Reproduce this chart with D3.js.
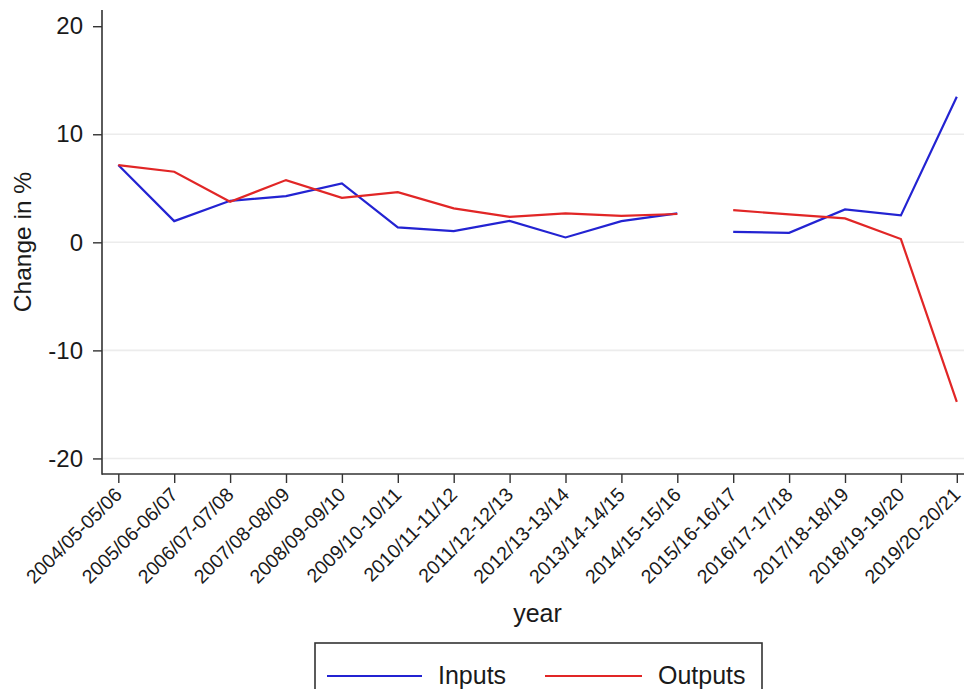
<!DOCTYPE html>
<html>
<head>
<meta charset="utf-8">
<script src="https://cdn.jsdelivr.net/npm/d3@7"></script>
<style>
  html, body { margin: 0; padding: 0; background: #fff; }
  svg { display: block; font-family: "Liberation Sans", Arial, sans-serif; }
</style>
</head>
<body>
<svg id="chart" width="964" height="689"></svg>
<script>
// Fiscal-year windows on the x axis
const categories = [
  "2004/05-05/06", "2005/06-06/07", "2006/07-07/08", "2007/08-08/09",
  "2008/09-09/10", "2009/10-10/11", "2010/11-11/12", "2011/12-12/13",
  "2012/13-13/14", "2013/14-14/15", "2014/15-15/16", "2015/16-16/17",
  "2016/17-17/18", "2017/18-18/19", "2018/19-19/20", "2019/20-20/21"
];

// Percentage change per window
const inputs = [7.15, 1.96, 3.84, 4.28, 5.45, 1.38, 1.04, 1.99, 0.45, 1.96, 2.68,
                0.97, 0.88, 3.05, 2.49, 13.47];
const outputs = [7.15, 6.53, 3.75, 5.76, 4.12, 4.65, 3.14, 2.36, 2.68, 2.45, 2.62,
                 2.98, 2.58, 2.21, 0.30, -14.77];

// The series is broken into two runs (no connection across the change of basis)
const runStarts = [0, 11];

const yTicks = [-20, -10, 0, 10, 20];
const gridTicks = [-20, -10, 0, 10];

const seriesNames = ["Inputs", "Outputs"];
const seriesColors = ["#2323d2", "#e12626"];

const svg = d3.select("#chart");
const W = 964, H = 689;

const plotLeft = 102, plotRight = 974, plotTop = 10, plotBottom = 474;

const x = d3.scalePoint().domain(categories).range([118.3, 956.8]);
const y = d3.scaleLinear().domain([-21.44, 21.5]).range([plotBottom, plotTop]);

// Gridlines
svg.append("g")
  .selectAll("line")
  .data(gridTicks)
  .join("line")
  .attr("x1", plotLeft + 1).attr("x2", plotRight)
  .attr("y1", d => y(d)).attr("y2", d => y(d))
  .attr("stroke", "#ececec").attr("stroke-width", 1.6);

// Y axis
const yAxis = svg.append("g")
  .attr("transform", `translate(${plotLeft},0)`)
  .call(d3.axisLeft(y).tickValues(yTicks).tickSize(9).tickPadding(10).tickFormat(d3.format("d")));
yAxis.select(".domain").remove();
yAxis.selectAll(".tick line").attr("stroke", "#333").attr("stroke-width", 1.4);
yAxis.selectAll(".tick text")
  .attr("font-size", 24).attr("fill", "#1a1a1a")
  .attr("font-family", "'Liberation Sans', Arial, sans-serif")
  .text(d => d < 0 ? "-" + Math.abs(d) : d);

// X axis
const xAxis = svg.append("g")
  .attr("transform", `translate(0,${plotBottom})`)
  .call(d3.axisBottom(x).tickSize(9).tickFormat(""));
xAxis.select(".domain").remove();
xAxis.selectAll(".tick line").attr("stroke", "#333").attr("stroke-width", 1.4);

svg.append("g")
  .selectAll("text")
  .data(categories)
  .join("text")
  .attr("transform", d => `translate(${x(d)},${plotBottom + 17})`+ " rotate(-45)")
  .attr("text-anchor", "end")
  .attr("dy", "0.35em")
  .attr("font-size", 19.5)
  .attr("fill", "#1a1a1a")
  .text(d => d);

// Axis lines
svg.append("line")
  .attr("x1", plotLeft).attr("x2", plotLeft)
  .attr("y1", plotTop).attr("y2", plotBottom + 0.7)
  .attr("stroke", "#333").attr("stroke-width", 1.6);
svg.append("line")
  .attr("x1", plotLeft).attr("x2", W)
  .attr("y1", plotBottom).attr("y2", plotBottom)
  .attr("stroke", "#333").attr("stroke-width", 1.6);

// Axis titles
svg.append("text")
  .attr("transform", `translate(31,${(plotTop + plotBottom) / 2}) rotate(-90)`)
  .attr("text-anchor", "middle")
  .attr("font-size", 24.5)
  .attr("fill", "#1a1a1a")
  .text("Change in %");

svg.append("text")
  .attr("x", 537.5).attr("y", 622)
  .attr("text-anchor", "middle")
  .attr("font-size", 25)
  .attr("fill", "#1a1a1a")
  .text("year");

// Series lines
const line = d3.line()
  .x(d => x(d.cat))
  .y(d => y(d.v));

[inputs, outputs].forEach((vals, s) => {
  const pts = vals.map((v, i) => ({ cat: categories[i], v }));
  runStarts.forEach((start, r) => {
    const end = r + 1 < runStarts.length ? runStarts[r + 1] : pts.length;
    svg.append("path")
      .datum(pts.slice(start, end))
      .attr("d", line)
      .attr("fill", "none")
      .attr("stroke", seriesColors[s])
      .attr("stroke-width", 2.2)
      .attr("stroke-linejoin", "miter");
  });
});

// Legend
const legend = svg.append("g");
legend.append("rect")
  .attr("x", 315).attr("y", 643)
  .attr("width", 447).attr("height", 70)
  .attr("fill", "#fff").attr("stroke", "#333").attr("stroke-width", 1.6);

const legendItems = [
  { x1: 327, x2: 422, tx: 438 },
  { x1: 545, x2: 642, tx: 658 }
];
legendItems.forEach((it, i) => {
  legend.append("line")
    .attr("x1", it.x1).attr("x2", it.x2)
    .attr("y1", 676).attr("y2", 676)
    .attr("stroke", seriesColors[i]).attr("stroke-width", 2.2);
  legend.append("text")
    .attr("x", it.tx).attr("y", 684)
    .attr("font-size", 25)
    .attr("fill", "#1a1a1a")
    .text(seriesNames[i]);
});
</script>
</body>
</html>
